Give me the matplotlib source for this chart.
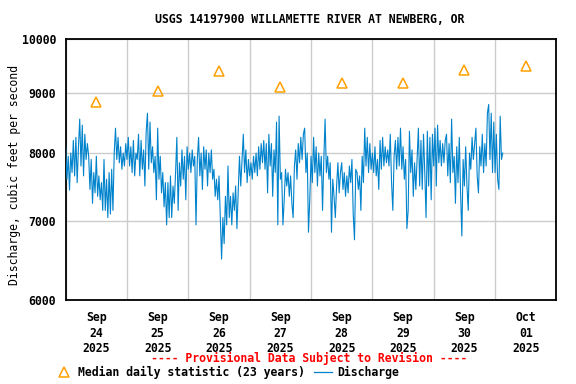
import matplotlib
matplotlib.use("Agg")
import matplotlib.pyplot as plt
import matplotlib.dates as mdates
from matplotlib.ticker import FixedLocator, FixedFormatter, NullLocator, NullFormatter
from matplotlib.lines import Line2D
import pandas as pd

plt.rcParams['font.family'] = 'DejaVu Sans Mono'
plt.rcParams['font.weight'] = 'bold'

title = "USGS 14197900 WILLAMETTE RIVER AT NEWBERG, OR"

# median daily statistic, plotted at noon of each day
median_days = ["2025-09-24 12:00", "2025-09-25 12:00", "2025-09-26 12:00",
               "2025-09-27 12:00", "2025-09-28 12:00", "2025-09-29 12:00",
               "2025-09-30 12:00", "2025-10-01 12:00"]
median_cfs = [8840, 9040, 9390, 9110, 9170, 9180, 9410, 9480]

# discharge (cfs), every 30 minutes from Sep 24 00:00
discharge = [
    # Sep 24 -> early Sep 25
    8100, 7600, 7950, 7440, 8000, 7700, 8200, 7650, 8250, 7550,
    8100, 8550, 7800, 8450, 7650, 8300, 7900, 8150, 7950, 7450,
    7900, 7250, 7700, 7400, 7950, 7350, 7650, 7300, 7550, 7150,
    7900, 7150, 7600, 7050, 7700, 7100, 7750, 7150, 8000, 8400,
    7900, 8250, 7850, 8100, 7750, 8000, 7800, 8150, 7900, 8250,
    7800, 8100, 7700, 8200, 7650, 8000, 7900,
    # Sep 25 -> Sep 26 morning
    8300, 7650, 8200, 7750, 8050, 7500, 8350, 8650, 7750, 8500,
    7850, 8100, 7700, 7950, 7300, 8400, 7600, 7950, 7400, 7700,
    7200, 7550, 6950, 7550, 7050, 7650, 7050, 7500, 7250, 7700,
    8250, 7150, 7850, 7500, 8050, 7600, 7950, 7300, 8100, 7750,
    8000, 7700, 8050, 7800, 7950, 6950, 7900, 8250, 7650, 8000,
    7450, 8100, 7750, 8050, 7500, 8000, 7700,
    # Sep 26 -> Sep 27 morning
    8050, 7600, 7750, 7350, 7600, 7300, 7650, 7050, 6500, 7050,
    6700, 7350, 6950, 7800, 7050, 7350, 6950, 7400, 7150, 7500,
    6900, 7400, 7950, 7500, 7900, 8300, 7700, 8050, 7550, 7900,
    7650, 7850, 7600, 7950, 7700, 8000, 7650, 8100, 7750, 8150,
    7850, 8200, 7750, 8150, 7400, 8300, 7800, 8150, 7350, 8050,
    7700, 8500, 6950, 8600, 7600, 7700, 6950,
    # Sep 27 -> Sep 28 morning
    7300, 7750, 7500, 7700, 7350, 7650, 7250, 7050, 7800, 8050,
    7600, 8150, 7850, 8250, 7900, 8300, 8400, 7700, 8000, 6850,
    7300, 7950, 7550, 8250, 7700, 8100, 7500, 8000, 7650, 7950,
    7150, 7900, 8550, 7700, 7950, 7600, 7850, 6850, 7600, 7350,
    7050, 7500, 7850, 7400, 7700, 7850, 7450, 7700, 7350, 7650,
    7400, 7800, 7550, 7900, 7100, 6750, 7750,
    # Sep 28 -> Sep 29 morning
    7700, 7450, 7650, 7150, 7950, 7550, 8400, 7800, 8250, 7700,
    8150, 7750, 8000, 7700, 8100, 7650, 7900, 7450, 8200, 7750,
    8250, 7800, 8100, 7850, 8050, 7800, 8300, 7550, 7150, 7950,
    8200, 7750, 8250, 7800, 8400, 7750, 8100, 7600, 7900, 6900,
    7150, 8350, 7700, 8050, 7350, 7850, 7450, 7900, 8400, 7500,
    8200, 7450, 8300, 7700, 7050, 8350, 7500, 8250,
    # Sep 29 -> Oct 1 03:00
    7300, 8300, 7800, 8400, 7500, 8450, 7850, 8200, 7800, 8150,
    7850, 8200, 8300, 7650, 8150, 7550, 8550, 7700, 7950, 7250,
    8100, 7550, 8250, 7400, 6800, 7900, 7500, 8100, 7500, 7150,
    8000, 7750, 8250, 7900, 8150, 8400, 7650, 7400, 8100, 7800,
    8300, 7700, 8150, 7800, 8650, 8800, 7900, 8650, 7700, 8500,
    7700, 8300, 7600, 7450, 8600, 7900, 8000,
]

times = pd.date_range("2025-09-24 00:00", periods=len(discharge), freq="30min")

fs = 8.3
fig = plt.figure(figsize=(5.76, 3.84), dpi=100)
ax = fig.add_axes([0.114, 0.219, 0.852, 0.679])

ax.plot(times, discharge, color='#0083cc', lw=0.8, zorder=3)
ax.plot(pd.to_datetime(median_days), median_cfs, ls='none', marker='^',
        ms=7.5, mfc='none', mec='#ffa000', mew=1.1, zorder=4)

ax.set_yscale('log')
ax.set_ylim(6000, 10000)
ax.yaxis.set_major_locator(FixedLocator([6000, 7000, 8000, 9000, 10000]))
ax.yaxis.set_major_formatter(FixedFormatter(["6000", "7000", "8000", "9000", "10000"]))
ax.yaxis.set_minor_locator(NullLocator())
ax.yaxis.set_minor_formatter(NullFormatter())

ax.set_xlim(pd.Timestamp("2025-09-24 00:00"), pd.Timestamp("2025-10-02 00:00"))
ax.xaxis.set_major_locator(mdates.DayLocator())
ax.xaxis.set_major_formatter(NullFormatter())
ax.xaxis.set_minor_locator(mdates.HourLocator(byhour=12))
ax.xaxis.set_minor_formatter(mdates.DateFormatter('%b\n%d\n%Y'))

ax.grid(True, which='major', color='#cccccc', lw=1.0)
ax.tick_params(which='both', length=0, labelsize=fs, pad=7)
ax.tick_params(axis='x', which='minor', pad=8)
for lab in ax.get_xticklabels(minor=True):
    lab.set_linespacing(1.25)
for s in ax.spines.values():
    s.set_linewidth(1.3)

ax.set_ylabel("Discharge, cubic feet per second", fontsize=fs, labelpad=5)
ax.yaxis.set_label_coords(-0.09, 0.48)
fig.text(0.537, 0.95, title, ha='center', va='center', fontsize=fs)
fig.text(0.537, 0.067, "---- Provisional Data Subject to Revision ----",
         ha='center', va='center', fontsize=fs, color='red')

handles = [Line2D([], [], ls='none', marker='^', ms=7.5, mfc='none',
                  mec='#ffa000', mew=1.1),
           Line2D([], [], color='#0083cc', lw=0.9)]
fig.legend(handles, ["Median daily statistic (23 years)", "Discharge"],
           loc='center left', bbox_to_anchor=(0.096, 0.031), ncol=2,
           frameon=False, fontsize=fs, handlelength=1.5, handletextpad=0.5,
           columnspacing=0.8, borderpad=0, borderaxespad=0)

fig.savefig("out.png", dpi=100)
